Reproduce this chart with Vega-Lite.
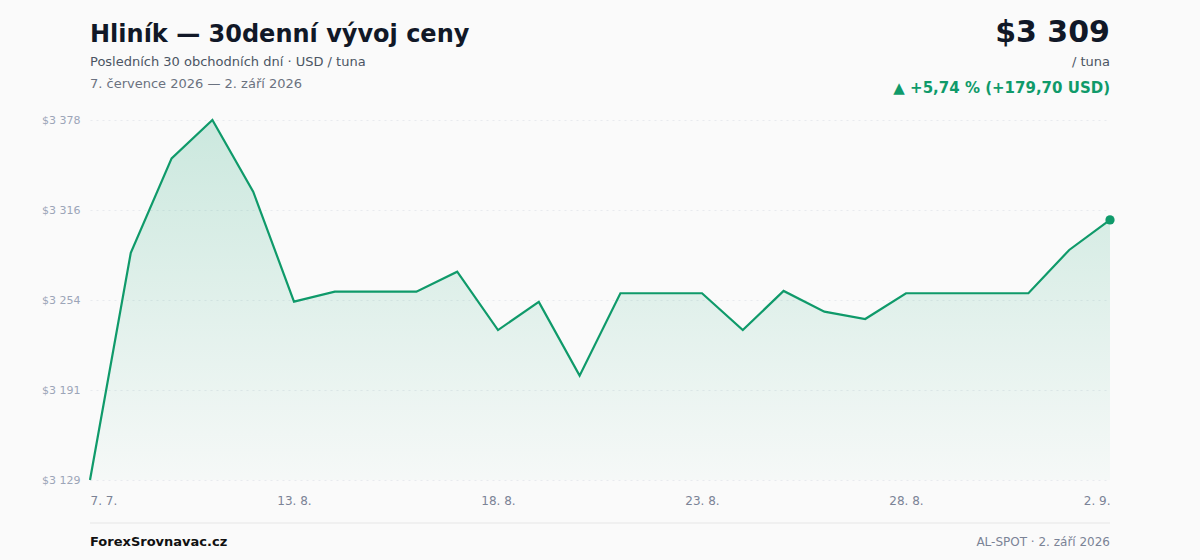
{
  "$schema": "https://vega.github.io/schema/vega-lite/v6.json",
  "width": 1020,
  "height": 360,
  "autosize": {"type": "none"},
  "padding": {"left": 90, "top": 120, "right": 90, "bottom": 80},
  "background": "#fafafa",
  "config": {
    "view": {"stroke": "transparent"},
    "font": "DejaVu Sans",
    "axis": {"labelFont": "DejaVu Sans", "titleFont": "DejaVu Sans"},
    "text": {"font": "DejaVu Sans"}
  },
  "datasets": {
    "prices": [
      {"d": "7. 7.", "price": 3129.3},
      {"d": "9. 8.", "price": 3286.3},
      {"d": "10. 8.", "price": 3351.5},
      {"d": "11. 8.", "price": 3378.0},
      {"d": "12. 8.", "price": 3328.5},
      {"d": "13. 8.", "price": 3252.5},
      {"d": "14. 8.", "price": 3259.4},
      {"d": "15. 8.", "price": 3259.4},
      {"d": "16. 8.", "price": 3259.4},
      {"d": "17. 8.", "price": 3273.2},
      {"d": "18. 8.", "price": 3232.9},
      {"d": "19. 8.", "price": 3252.3},
      {"d": "20. 8.", "price": 3201.4},
      {"d": "21. 8.", "price": 3258.3},
      {"d": "22. 8.", "price": 3258.3},
      {"d": "23. 8.", "price": 3258.3},
      {"d": "24. 8.", "price": 3232.9},
      {"d": "25. 8.", "price": 3259.9},
      {"d": "26. 8.", "price": 3245.6},
      {"d": "27. 8.", "price": 3240.5},
      {"d": "28. 8.", "price": 3258.3},
      {"d": "29. 8.", "price": 3258.3},
      {"d": "30. 8.", "price": 3258.3},
      {"d": "31. 8.", "price": 3258.3},
      {"d": "1. 9.", "price": 3288.2},
      {"d": "2. 9.", "price": 3309.0}
    ]
  },
  "layer": [
    {
      "data": {"name": "prices"},
      "mark": {
        "type": "area",
        "color": {
          "gradient": "linear",
          "x1": 0, "y1": 0, "x2": 0, "y2": 1,
          "stops": [
            {"offset": 0, "color": "rgba(16,160,110,0.20)"},
            {"offset": 1, "color": "rgba(16,160,110,0.02)"}
          ]
        }
      },
      "encoding": {
        "x": {
          "field": "d", "type": "ordinal", "sort": null,
          "scale": {"type": "point", "padding": 0},
          "axis": {
            "title": null,
            "values": ["7. 7.", "13. 8.", "18. 8.", "23. 8.", "28. 8.", "2. 9."],
            "labelAngle": 0,
            "labelFlush": true,
            "labelColor": "#7b8396",
            "labelFontSize": 12,
            "labelPadding": 15,
            "domain": false,
            "ticks": false,
            "grid": false
          }
        },
        "y": {
          "field": "price", "type": "quantitative",
          "scale": {"domain": [3129.3, 3378.0], "zero": false, "nice": false},
          "axis": {
            "title": null,
            "values": [3129.3, 3191.4, 3253.6, 3315.8, 3378.0],
            "labelExpr": "'$' + replace(format(datum.value, ',.0f'), ',', ' ')",
            "labelColor": "#9ca5b8",
            "labelFontSize": 11,
            "labelPadding": 10,
            "domain": false,
            "ticks": false,
            "grid": true,
            "gridColor": "#e8eaee",
            "gridDash": [2, 4],
            "gridWidth": 1
          }
        },
        "y2": {"datum": 3129.3}
      }
    },
    {
      "data": {"name": "prices"},
      "mark": {"type": "line", "color": "#0f9a6a", "strokeWidth": 2.2},
      "encoding": {
        "x": {"field": "d", "type": "ordinal", "sort": null},
        "y": {"field": "price", "type": "quantitative"}
      }
    },
    {
      "data": {"name": "prices"},
      "transform": [{"filter": "datum.d == '2. 9.'"}],
      "mark": {"type": "circle", "color": "#0f9a6a", "size": 85, "opacity": 1},
      "encoding": {
        "x": {"field": "d", "type": "ordinal", "sort": null},
        "y": {"field": "price", "type": "quantitative"}
      }
    },
    {
      "data": {"values": [{}]},
      "mark": {"type": "text", "align": "left", "baseline": "middle", "fontSize": 24, "fontWeight": "bold", "color": "#111827"},
      "encoding": {"x": {"value": 0}, "y": {"value": -85.5}, "text": {"value": "Hliník — 30denní vývoj ceny"}}
    },
    {
      "data": {"values": [{}]},
      "mark": {"type": "text", "align": "left", "baseline": "middle", "fontSize": 13, "color": "#4b5563"},
      "encoding": {"x": {"value": 0}, "y": {"value": -58}, "text": {"value": "Posledních 30 obchodních dní · USD / tuna"}}
    },
    {
      "data": {"values": [{}]},
      "mark": {"type": "text", "align": "left", "baseline": "middle", "fontSize": 13, "color": "#6b7280"},
      "encoding": {"x": {"value": 0}, "y": {"value": -36}, "text": {"value": "7. července 2026 — 2. září 2026"}}
    },
    {
      "data": {"values": [{}]},
      "mark": {"type": "text", "align": "right", "baseline": "middle", "fontSize": 30, "fontWeight": "bold", "color": "#111827"},
      "encoding": {"x": {"value": 1020}, "y": {"value": -87}, "text": {"value": "$3 309"}}
    },
    {
      "data": {"values": [{}]},
      "mark": {"type": "text", "align": "right", "baseline": "middle", "fontSize": 13, "color": "#4b5563"},
      "encoding": {"x": {"value": 1020}, "y": {"value": -58}, "text": {"value": "/ tuna"}}
    },
    {
      "data": {"values": [{}]},
      "mark": {"type": "text", "align": "right", "baseline": "middle", "fontSize": 15, "fontWeight": "bold", "color": "#0f9a6a"},
      "encoding": {"x": {"value": 1020}, "y": {"value": -32}, "text": {"value": "▲ +5,74 % (+179,70 USD)"}}
    },
    {
      "data": {"values": [{}]},
      "mark": {"type": "rule", "color": "#ececec", "strokeWidth": 1.5},
      "encoding": {"x": {"value": 0}, "x2": {"value": 1020}, "y": {"value": 403}}
    },
    {
      "data": {"values": [{}]},
      "mark": {"type": "text", "align": "left", "baseline": "middle", "fontSize": 13, "fontWeight": "bold", "color": "#111111"},
      "encoding": {"x": {"value": 0}, "y": {"value": 421.5}, "text": {"value": "ForexSrovnavac.cz"}}
    },
    {
      "data": {"values": [{}]},
      "mark": {"type": "text", "align": "right", "baseline": "middle", "fontSize": 12, "color": "#7b8396"},
      "encoding": {"x": {"value": 1020}, "y": {"value": 421.5}, "text": {"value": "AL-SPOT · 2. září 2026"}}
    }
  ]
}
